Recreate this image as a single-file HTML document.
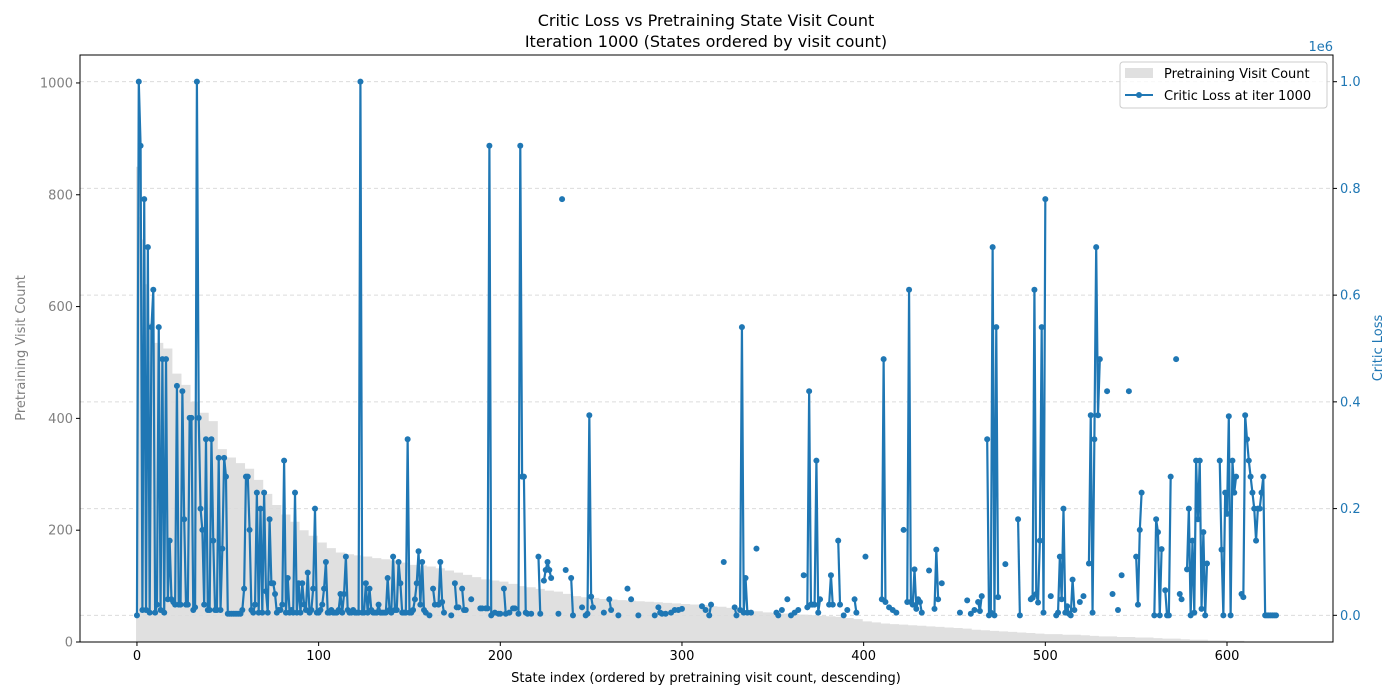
<!DOCTYPE html>
<html><head><meta charset="utf-8"><style>
body{margin:0;background:#fff;}
svg{display:block;font-family:"DejaVu Sans","Liberation Sans",sans-serif;}
</style></head><body>
<svg id="chart" width="1400" height="700">
<text x="706" y="26" text-anchor="middle" font-size="16">Critic Loss vs Pretraining State Visit Count</text>
<text x="706" y="47" text-anchor="middle" font-size="16">Iteration 1000 (States ordered by visit count)</text>
<g id="bars"></g>
<g id="grid"></g>
<g id="loss"></g>
<rect x="80" y="55" width="1253" height="587" fill="none" stroke="#000" stroke-width="1"/>
<g id="xticks"></g>
<g id="lticks"></g>
<g id="rticks"></g>
<text x="706" y="682" text-anchor="middle" font-size="13">State index (ordered by pretraining visit count, descending)</text>
<text transform="translate(25,348) rotate(-90)" text-anchor="middle" font-size="13" fill="#808080">Pretraining Visit Count</text>
<text transform="translate(1382,348) rotate(-90)" text-anchor="middle" font-size="13" fill="#1f77b4">Critic Loss</text>
<text x="1333" y="51" text-anchor="end" font-size="13" fill="#1f77b4">1e6</text>
<g>
<rect x="1120" y="62" width="207" height="46" rx="3" fill="#fff" fill-opacity="0.8" stroke="#ccc"/>
<rect x="1125" y="68" width="28" height="10" fill="#e0e0e0"/>
<text x="1164" y="78" font-size="13">Pretraining Visit Count</text>
<line x1="1125" y1="95" x2="1153" y2="95" stroke="#1f77b4" stroke-width="2"/>
<circle cx="1139" cy="95" r="3" fill="#1f77b4"/>
<text x="1164" y="100" font-size="13">Critic Loss at iter 1000</text>
</g>
</svg>
<script>
// visit counts per bucket of 5 states (descending), from index 10
const visitBuckets=[535,525,480,460,430,410,395,345,330,320,310,290,265,245,228,215,200,190,178,168,160,157,155,153,150,148,146,142,138,137,135,132,128,124,120,116,112,110,108,104,100,98,95,92,90,86,82,80,79,77,76,75,74,73,72,71,70,69,68,67,66,64,63,61,59,57,55,53,52,51,50,49,48,47,46,45,43,41,37,35,33,32,31,30,29,28,27,26,25,24,22,21,20,19,18,17,16,15,14,14,13,13,12,11,10,10,9,9,8,8,7,6,6,5,4,4,3,3,2,2,1,1,1,1];
const nStates=628;
const firstVisits=[850,800,760,720,680,640,600,570,550,540];
// critic loss segments (start index, consecutive values, in millions)
const segStarts=[0,161,163,166,173,175,179,184,189,192,197,199,202,205,207,210,217,221,224,232,234,236,239,245,247,257,260,265,270,272,276,285,287,291,294,296,298,300,311,313,315,323,329,332,338,341,352,355,358,360,362,364,367,369,381,386,389,391,395,401,410,414,416,418,422,424,436,439,443,453,457,459,461,463,468,478,485,492,503,506,519,521,524,534,537,540,542,546,550,560,566,572,574,578,596,608];
const segValues=[
[0,1.0,0.88,0.01,0.78,0.01,0.69,0.005,0.54,0.61,
0.005,0.02,0.54,0.01,0.48,0.005,0.48,0.03,0.14,0.03,
0.025,0.02,0.43,0.02,0.02,0.42,0.18,0.02,0.02,0.37,
0.37,0.01,0.015,1.0,0.37,0.2,0.16,0.02,0.33,0.01,
0.01,0.33,0.14,0.01,0.01,0.295,0.01,0.125,0.295,0.26,
0.003,0.003,0.003,0.003,0.003,0.003,0.003,0.003,0.01,0.05,
0.26,0.26,0.16,0.01,0.005,0.02,0.23,0.005,0.2,0.005,
0.23,0.045,0.005,0.18,0.06,0.06,0.04,0.005,0.01,0.01,
0.02,0.29,0.005,0.07,0.005,0.01,0.005,0.23,0.005,0.06,
0.005,0.06,0.02,0.01,0.08,0.005,0.01,0.05,0.2,0.005,
0.005,0.01,0.02,0.05,0.1,0.005,0.005,0.01,0.005,0.005,
0.005,0.01,0.04,0.005,0.04,0.11,0.01,0.005,0.005,0.01,
0.005,0.005,0.005,1.0,0.005,0.005,0.06,0.005,0.05,0.01,
0.005,0.005,0.005,0.02,0.005,0.005,0.005,0.005,0.07,0.01,
0.005,0.11,0.01,0.01,0.1,0.06,0.005,0.005,0.005,0.33,
0.005,0.005,0.01,0.03,0.06,0.12,0.02,0.1,0.01,0.005],
[0.0],[0.05,0.02],[0.02,0.1,0.025,0.005],[0],[0.06,0.015,0.015],[0.05,0.01,0.01],[0.03],[0.013,0.013],
[0.013,0.013,0.88,0.0],[0.005],[0.003,0.003],[0.05,0.003],[0.005],[0.013,0.013],
[0.003,0.88,0.26,0.26,0.005,0.003],[0.003],[0.11,0.003],[0.065,0.085,0.1,0.085,0.07],[0.003],[0.78],[0.085],
[0.07,0.0],[0.015],[0.0,0.003,0.375,0.035,0.015],[0.005],[0.03,0.01],[0],[0.05],[0.03],[0],[0],
[0.015,0.005,0.003],[0.003],[0.005],[0.01],[0.01],[0.012],[0.017],[0.01],[0.0,0.02],[0.1],[0.015,0.0],
[0.01,0.54,0.005,0.07,0.005],[0.005],[0.125],[0.005,0.0],[0.01],[0.03],[0.0],[0.005],[0.01],[0.075],
[0.015,0.42,0.02,0.02,0.02,0.29,0.005,0.03],[0.02,0.075,0.02],[0.14,0.02],[0.0],[0.01],[0.03,0.005],[0.11],
[0.03,0.48,0.025],[0.015],[0.01],[0.005],[0.16],[0.025,0.61,0.025,0.02,0.086,0.012,0.03,0.025,0.005],[0.084],
[0.012,0.123,0.03],[0.06],[0.005],[0.028],[0.003],[0.01],[0.025,0.008,0.036],
[0.33,0.0,0.005,0.69,0.0,0.54,0.034],[0.096],[0.18,0],[0.03,0.033,0.61,0.04,0.024,0.14,0.54,0.005,0.78],[0.036],
[0,0.005,0.11,0.03,0.2,0.005,0.017,0.003,0,0.067,0.01],[0.025],[0.036],[0.097,0.375,0.005,0.33,0.69,0.375,0.48],
[0.42],[0.04],[0.01],[0.075],[0.42],[0.11,0.02,0.16,0.23],[0,0.18,0.156,0,0.124],[0.047,0,0,0.26],[0.48],[0.04,0.03],
[0.086,0.2,0,0.14,0.005,0.29,0.18,0.29,0.012,0.156,0,0.097],
[0.29,0.123,0,0.23,0.19,0.373,0,0.29,0.23,0.26],
[0.04,0.034,0.375,0.33,0.29,0.26,0.23,0.2,0.14,0.2,0.2,0.23,0.26,0,0,0,0,0,0,0]];
const xTicks=[0,100,200,300,400,500,600];
const leftTicks=[0,200,400,600,800,1000];
const rightTicks=[0,0.2,0.4,0.6,0.8,1.0];
const rightLabels=["0.0","0.2","0.4","0.6","0.8","1.0"];

const NS="http://www.w3.org/2000/svg";
const X0=80,X1=1333,Y0=642,Y1=55;
const xMin=-31.35,xMax=658.35;
const sx=v=>X0+(v-xMin)/(xMax-xMin)*(X1-X0);
const syL=v=>Y0-(v-0)/(1050-0)*(Y0-Y1);
const syR=v=>Y0-(v+0.05)/(1.1)*(Y0-Y1);
function mk(tag,attrs,parent){const e=document.createElementNS(NS,tag);for(const k in attrs)e.setAttribute(k,attrs[k]);parent.appendChild(e);return e;}

const bars=document.getElementById('bars');
let d="";
for(let i=0;i<nStates;i++){
  const v=i<firstVisits.length?firstVisits[i]:visitBuckets[Math.min(visitBuckets.length-1,Math.floor((i-10)/5))];
  const xa=sx(i-0.5),xb=sx(i+0.5);
  d+=`M${xa},${Y0}V${syL(v)}H${xb}V${Y0}Z`;
}
const bp=mk('path',{d:d,fill:'#e0e0e0'},bars);



const grid=document.getElementById('grid');
rightTicks.forEach(t=>{
  const l=mk('line',{x1:X0,x2:X1,y1:syR(t),y2:syR(t),stroke:'#dcdcdc','stroke-dasharray':'4,3','stroke-width':1},grid);
  
  
});

const loss=document.getElementById('loss');
segStarts.forEach((s,k)=>{
  const vals=segValues[k];
  const pts=vals.map((v,j)=>sx(s+j)+','+syR(v)).join(' ');
  if(vals.length>1){
    const pl=mk('polyline',{points:pts,fill:'none',stroke:'#1f77b4','stroke-width':2.2,'stroke-linejoin':'round'},loss);
    
    
  }
  vals.forEach((v,j)=>{
    const c=mk('circle',{cx:sx(s+j),cy:syR(v),r:3,fill:'#1f77b4'},loss);
    
    
  });
});

const xt=document.getElementById('xticks');
xTicks.forEach(t=>{
  const l=mk('line',{x1:sx(t),x2:sx(t),y1:Y0,y2:Y0+4,stroke:'#000'},xt);
  
  
  const tx=mk('text',{x:sx(t),y:Y0+18,'text-anchor':'middle','font-size':13},xt);
  tx.textContent=t;
  
  
});
const lt=document.getElementById('lticks');
leftTicks.forEach(t=>{
  const l=mk('line',{x1:X0-4,x2:X0,y1:syL(t),y2:syL(t),stroke:'#000'},lt);
  
  
  const tx=mk('text',{x:X0-7,y:syL(t)+4.5,'text-anchor':'end','font-size':13,fill:'#808080'},lt);
  tx.textContent=t;
  
  
});
const rt=document.getElementById('rticks');
rightTicks.forEach((t,i)=>{
  const l=mk('line',{x1:X1,x2:X1+4,y1:syR(t),y2:syR(t),stroke:'#000'},rt);
  
  
  const tx=mk('text',{x:X1+7,y:syR(t)+4.5,'font-size':13,fill:'#1f77b4'},rt);
  tx.textContent=rightLabels[i];
  
  
});
</script>
</body></html>
